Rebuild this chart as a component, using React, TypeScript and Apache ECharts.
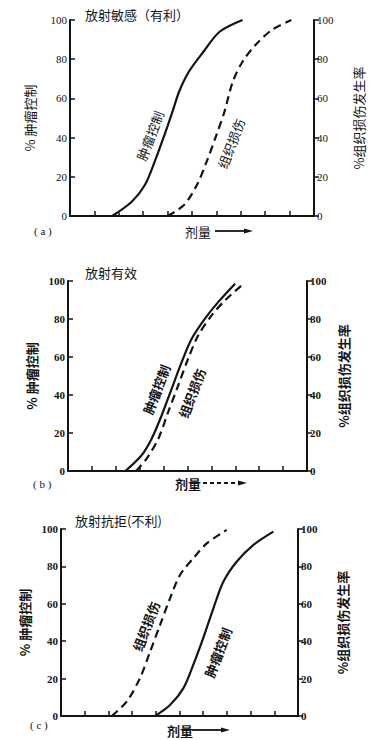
import React, { useEffect, useRef } from "react";
import * as echarts from "echarts";

// ---- data (dose in arbitrary units 0..10, response in %) ----
const titles = ["放射敏感（有利）", "放射有效", "放射抗拒(不利)"];
const panelTags = ["( a )", "( b )", "( c )"];
const leftNames = ["% 肿瘤控制", "% 肿瘤控制", "% 肿瘤控制"];
const rightNames = ["%组织损伤发生率", "%组织损伤发生率", "%组织损伤发生率"];
const xName = "剂量";
const tumorName = "肿瘤控制";
const tissueName = "组织损伤";

const tumorA = [[1.73, 0], [2.53, 7.3], [3.07, 15.8], [3.47, 27.7], [3.87, 41.3], [4.2, 53.2], [4.47, 63.4], [4.87, 73.6], [5.47, 83.8], [6.13, 94], [7.07, 100]];
const tissueA = [[4.0, 0], [4.67, 5.6], [5.2, 15.8], [5.6, 27.7], [6.0, 41.3], [6.33, 53.2], [6.67, 68.5], [7.07, 78.7], [7.6, 87.2], [8.27, 94.9], [9.07, 100]];
const tumorB = [[2.4, 0], [3.08, 8.3], [3.5, 17], [3.92, 29.3], [4.34, 43.4], [4.76, 57.4], [5.18, 69.7], [5.73, 80.2], [6.29, 89], [6.99, 98.6]];
const tissueB = [[2.85, 0], [3.29, 6.5], [3.78, 17], [4.19, 31], [4.61, 45], [5.03, 59.2], [5.45, 71.4], [6.01, 81.9], [6.57, 89.8], [7.27, 97.7]];
const tumorC = [[3.97, 0], [4.6, 5.9], [5.16, 14.8], [5.58, 27.3], [6.0, 41.6], [6.43, 57.6], [6.85, 71.8], [7.41, 82.5], [8.11, 91.4], [8.96, 98.6]];
const tissueC = [[2.14, 0], [2.77, 7.7], [3.33, 20.2], [3.76, 34.4], [4.18, 48.7], [4.6, 62.9], [5.02, 75.4], [5.58, 84.3], [6.15, 92.3], [6.99, 99.5]];

const tumorSeries = [tumorA, tumorB, tumorC];
const tissueSeries = [tissueA, tissueB, tissueC];
// label anchor points (data coords) for the in-plot curve labels
const tumorLabelAt = [[3.28, 41], [3.7, 43], [6.62, 34]];
const tissueLabelAt = [[6.6, 37], [5.18, 41], [3.58, 48]];

const INK = "#141414";
const SERIF = "'Liberation Serif', 'DejaVu Serif', 'Noto Sans CJK SC', serif";
const CJK = "'Noto Sans CJK SC', 'Liberation Serif', serif";

// layout
const grids = [
  { left: 70, top: 20, width: 250, height: 196 },
  { left: 68, top: 281, width: 239, height: 190 },
  { left: 61, top: 529, width: 237, height: 187 },
];
const leftGap = [34, 22, 24];
const rightGap = [38, 26, 38];
const boldPanel = [false, true, true];
const titlePos = [[80, 3], [80, 261], [70, 509]];
const tagPos = [[34, 231], [33, 484], [30, 725]];
const xNamePos = [[185, 231], [175, 483], [167, 730]];
const arrowSpan = [[215, 253, 231], [203, 247, 483], [192, 230, 730]];

export default function App() {
  const ref = useRef<HTMLDivElement>(null);
  useEffect(() => {
    document.body.style.margin = "0";
    const chart = echarts.init(ref.current!, null, { renderer: "svg" });

    const xAxis: any[] = [];
    const yAxis: any[] = [];
    const series: any[] = [];
    const title: any[] = [];

    grids.forEach((g, i) => {
      const fw = boldPanel[i] ? "bold" : "normal";
      xAxis.push({
        type: "value",
        gridIndex: i,
        min: 0,
        max: 10,
        interval: 1,
        axisLine: { show: true, lineStyle: { color: INK, width: 2 } },
        axisTick: { show: true, inside: true, length: 5, lineStyle: { color: INK, width: 1.5 } },
        axisLabel: { show: false },
        splitLine: { show: false },
      });
      const mkY = (pos: string, name: string, gap: number) => ({
        type: "value",
        gridIndex: i,
        position: pos,
        min: 0,
        max: 100,
        interval: 20,
        name,
        nameLocation: "middle",
        nameRotate: 90,
        nameGap: gap,
        nameTextStyle: { color: INK, fontSize: 13, fontFamily: CJK, fontWeight: fw },
        axisLine: { show: true, lineStyle: { color: INK, width: 2 } },
        axisTick: { show: true, inside: pos === "left", length: 5, lineStyle: { color: INK, width: 1.5 } },
        axisLabel: { color: INK, fontSize: 11, margin: 3, fontFamily: SERIF, fontWeight: fw },
        splitLine: { show: false },
      });
      yAxis.push(mkY("left", leftNames[i], leftGap[i]));
      yAxis.push(mkY("right", rightNames[i], rightGap[i]));

      series.push({
        type: "line",
        name: tumorName,
        xAxisIndex: i,
        yAxisIndex: i * 2,
        data: tumorSeries[i],
        smooth: 0.3,
        showSymbol: false,
        lineStyle: { color: INK, width: 2.2, type: "solid" },
      });
      series.push({
        type: "line",
        name: tissueName,
        xAxisIndex: i,
        yAxisIndex: i * 2,
        data: tissueSeries[i],
        smooth: 0.3,
        showSymbol: false,
        lineStyle: { color: INK, width: 2.2, type: [8, 5] },
      });
      title.push({
        text: titles[i],
        left: titlePos[i][0],
        top: titlePos[i][1],
        textStyle: { color: INK, fontSize: 13, fontWeight: "normal", fontFamily: CJK },
      });
    });

    chart.setOption({
      animation: false,
      backgroundColor: "#ffffff",
      title,
      grid: grids.map((g) => ({ ...g, containLabel: false })),
      xAxis,
      yAxis,
      series,
    });

    const graphic: any[] = [];
    grids.forEach((g, i) => {
      const fw = boldPanel[i] ? "bold" : "normal";
      const rot = (69 * Math.PI) / 180;
      const p1 = chart.convertToPixel({ gridIndex: i } as any, tumorLabelAt[i]) as number[];
      const p2 = chart.convertToPixel({ gridIndex: i } as any, tissueLabelAt[i]) as number[];
      graphic.push({
        type: "text",
        x: p1[0],
        y: p1[1],
        rotation: rot,
        style: { text: tumorName, fill: INK, font: `${fw} 13px ${CJK}`, align: "center", verticalAlign: "middle" },
      });
      graphic.push({
        type: "text",
        x: p2[0],
        y: p2[1],
        rotation: rot,
        style: { text: tissueName, fill: INK, font: `${fw} 13px ${CJK}`, align: "center", verticalAlign: "middle" },
      });
      graphic.push({
        type: "text",
        x: tagPos[i][0],
        y: tagPos[i][1],
        style: { text: panelTags[i], fill: INK, font: `11px ${SERIF}`, verticalAlign: "middle" },
      });
      graphic.push({
        type: "text",
        x: xNamePos[i][0],
        y: xNamePos[i][1],
        style: { text: xName, fill: INK, font: `${fw} 13px ${CJK}`, verticalAlign: "middle" },
      });
      const [ax0, ax1, ay] = arrowSpan[i];
      graphic.push({
        type: "line",
        shape: { x1: ax0, y1: ay, x2: ax1 - 6, y2: ay },
        style: { stroke: INK, lineWidth: 1.8, lineDash: i === 1 ? [4, 3] : null },
      });
      graphic.push({
        type: "polygon",
        shape: { points: [[ax1 - 9, ay - 2.5], [ax1, ay], [ax1 - 9, ay + 2.5]] },
        style: { fill: INK },
      });
    });
    chart.setOption({ graphic });

    return () => chart.dispose();
  }, []);
  return <div ref={ref} style={{ width: 373, height: 740 }} />;
}
